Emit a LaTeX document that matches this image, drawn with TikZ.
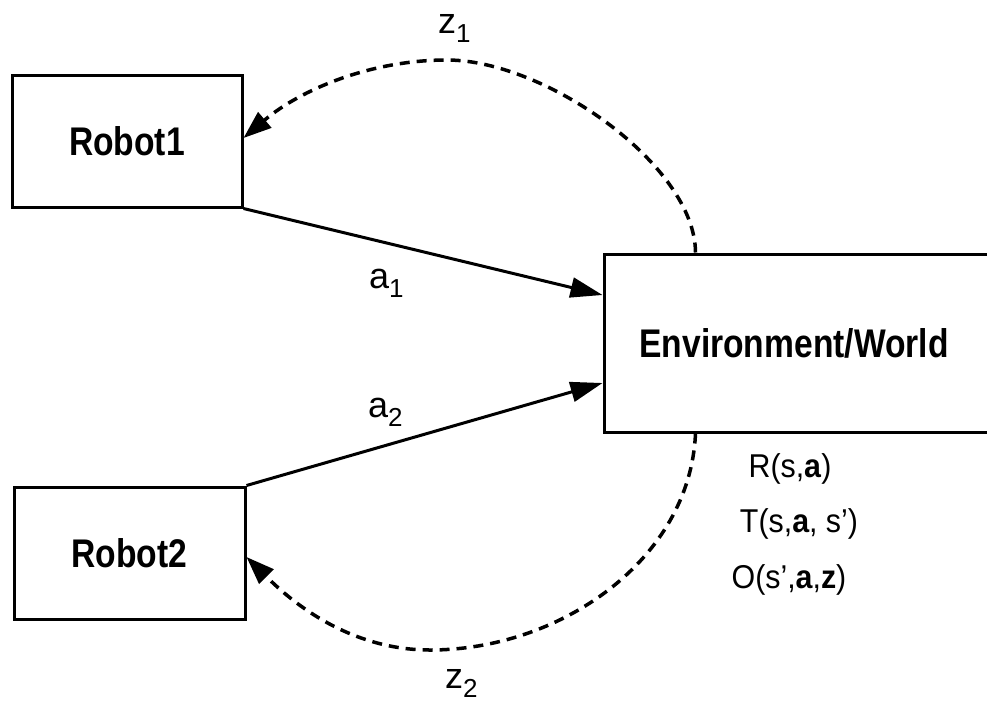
\documentclass[tikz,border=0pt]{standalone}
\usepackage{fontspec}
\setmainfont{Liberation Sans}
\newfontfamily\boxfont[FakeStretch=0.84]{Liberation Sans}
\newfontfamily\eqfont[FakeStretch=0.92,Ligatures=TeX]{Liberation Sans}
\usetikzlibrary{arrows.meta}
\newcommand\lblsub[1]{\raisebox{-9pt}{\fontsize{26}{28}\selectfont #1}}
\tikzset{
  boxnode/.style={draw, line width=3pt, rectangle, inner sep=0pt,
    font=\boxfont\bfseries\fontsize{40}{42}\selectfont},
  solidarrow/.style={line width=3pt, -{Triangle[length=32pt,width=20pt]}},
  dasharrow/.style={line width=3.5pt, dash pattern=on 10pt off 7pt,
    -{Triangle[length=28pt,width=20pt]}},
  lbl/.style={inner sep=0pt, anchor=base west, font=\fontsize{36}{38}\selectfont},
  eqlbl/.style={inner sep=0pt, anchor=base, font=\eqfont\fontsize{33}{35}\selectfont}
}
\begin{document}
\begin{tikzpicture}[x=1pt,y=-1pt]
\useasboundingbox (0,0) rectangle (987,702);
\clip (0,0) rectangle (987,702);
\fill[white] (0,0) rectangle (987,702);

\node[boxnode, minimum width=230pt, minimum height=132pt] (r1) at (127,141) {Robot1};
\node[boxnode, minimum width=231pt, minimum height=132pt] (r2) at (129.5,553) {Robot2};
\node[boxnode, minimum width=400pt, minimum height=178pt] (env) at (804,343) {};
\node[inner sep=0pt, font=\boxfont\bfseries\fontsize{40}{42}\selectfont] (envtext) at (794,343) {Environment/World};

\coordinate (t0) at ([xshift=93pt]env.north west);
\coordinate (b0) at ([xshift=93pt]env.south west);

\draw[solidarrow] (r1.south east) -- ([yshift=48pt]env.west);
\draw[solidarrow] (r2.north east) -- ([yshift=-40pt]env.west);

\draw[dasharrow] (t0) .. controls (695,165) and (545,60) .. (447,60)
  .. controls (370,60) and (300,90) .. ([yshift=3pt]r1.east);
\draw[dasharrow] (b0) .. controls (690,560) and (560,650) .. (430,650)
  .. controls (340,650) and (280,590) .. ([yshift=-4pt]r2.east);

\node[lbl] (z1) at (438,33) {z\lblsub{1}};
\node[lbl] (a1) at (369,288) {a\lblsub{1}};
\node[lbl] (a2) at (368,417) {a\lblsub{2}};
\node[lbl] (z2) at (445,688) {z\lblsub{2}};

\node[eqlbl] (rf) at (790,477) {R(s,\textbf{a})};
\node[eqlbl] (tf) at (799,532) {T(s,\textbf{a}, s’)};
\node[eqlbl] (of) at (789,588) {O(s’,\textbf{a},\textbf{z})};
\end{tikzpicture}
\end{document}
